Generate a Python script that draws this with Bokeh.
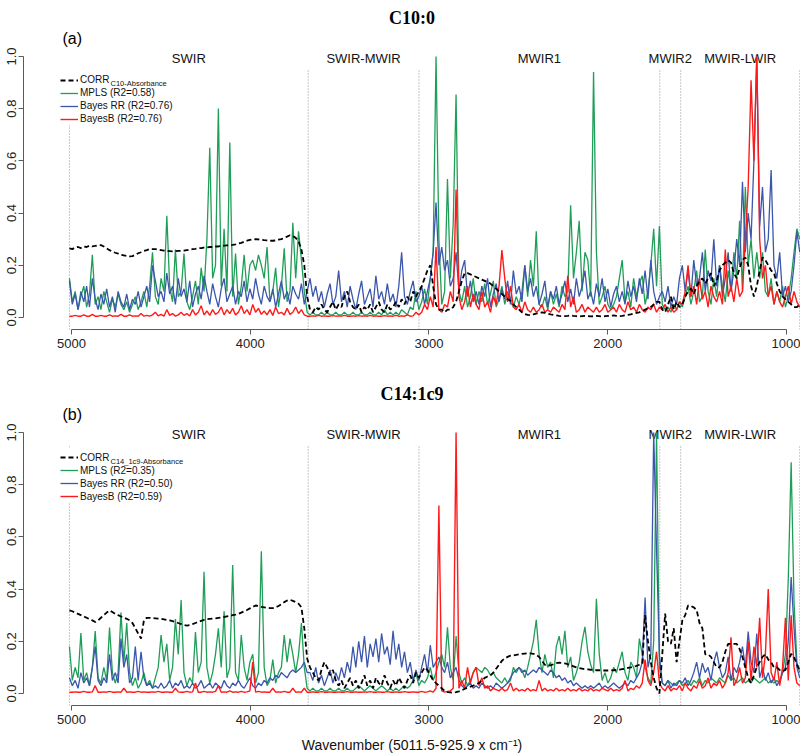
import numpy as np
from bokeh.plotting import figure
from bokeh.models import (Range1d, FixedTicker, PrintfTickFormatter, Legend,
                          LegendItem, Label, Title)
from bokeh.layouts import column
from bokeh.embed import file_html
from bokeh.resources import INLINE
from bokeh.core.properties import value

# ---------------- spectral axis (from the x-axis title: 5011.5-925.9) -------
WN_START = 5011.5
WN_END = 925.9
N_POINTS = 256
wavenumber = np.linspace(WN_START, WN_END, N_POINTS)

REGION_BOUNDS = [5011.5, 3676.0, 3056.0, 1709.0, 1592.0, 925.9]
REGION_NAMES = ["SWIR", "SWIR-MWIR", "MWIR1", "MWIR2", "MWIR-LWIR"]
X_TICKS = [5000, 4000, 3000, 2000, 1000]
Y_TICKS = [0.0, 0.2, 0.4, 0.6, 0.8, 1.0]

# ---------------- (a) C10:0 -------------------------------------------------
corr_c10 = [
    .265, .262, .268, .270, .266, .272, .270, .275, .272, .274,
    .277, .277, .272, .265, .258, .252, .248, .245, .240, .238,
    .236, .234, .235, .240, .246, .250, .255, .258, .262, .262,
    .262, .260, .258, .256, .255, .254, .253, .254, .255, .255,
    .256, .258, .260, .262, .263, .265, .266, .268, .268, .270,
    .270, .272, .272, .274, .275, .276, .277, .278, .280, .283,
    .286, .290, .294, .297, .299, .300, .299, .298, .296, .295,
    .294, .294, .295, .298, .300, .305, .310, .315, .312, .305,
    .292, .260, .200, .080, .030, .020, .040, .030, .050, .030,
    .020, .040, .060, .030, .050, .040, .080, .100, .060, .040,
    .030, .050, .020, .040, .030, .050, .020, .040, .060, .030,
    .020, .050, .030, .040, .060, .040, .070, .050, .080, .060,
    .100, .080, .100, .120, .150, .180, .200, .120, .050, .030,
    .030, .020, .030, .030, .040, .060, .100, .140, .170, .170,
    .165, .160, .155, .150, .145, .140, .135, .130, .120, .110,
    .100, .090, .080, .070, .064, .050, .040, .030, .020, .013,
    .010, .009, .012, .015, .018, .020, .018, .015, .012, .010,
    .008, .006, .005, .005, .006, .008, .006, .005, .004, .005,
    .006, .005, .004, .005, .006, .005, .004, .005, .006, .007,
    .008, .006, .005, .006, .008, .010, .012, .015, .018, .020,
    .025, .030, .035, .040, .050, .060, .060, .030, .020, .050,
    .080, .030, .060, .040, .050, .080, .100, .110, .090, .120,
    .140, .150, .130, .150, .170, .120, .140, .180, .200, .210,
    .220, .210, .170, .150, .190, .220, .230, .200, .120, .080,
    .120, .180, .230, .220, .200, .180, .170, .130, .100, .080,
    .070, .060, .050, .040, .040, .050]

mpls_c10 = [
    .15, .06, .10, .03, .08, .12, .04, .09, .24, .05,
    .08, .03, .10, .06, .02, .07, .04, .09, .05, .03,
    .06, .02, .05, .08, .03, .06, .10, .04, .12, .25,
    .08, .05, .15, .10, .39, .12, .06, .26, .08, .10,
    .245, .06, .03, .08, .14, .05, .19, .10, .30, .65,
    .15, .20, .80, .12, .34, .10, .67, .08, .245, .05,
    .12, .24, .10, .20, .22, .18, .24, .20, .15, .27,
    .06, .10, .19, .04, .12, .265, .06, .10, .363, .15,
    .33, .22, .10, .02, .01, .02, .01, .01, .02, .01,
    .02, .01, .01, .02, .01, .01, .02, .01, .01, .02,
    .01, .01, .02, .01, .01, .02, .01, .01, .02, .01,
    .03, .01, .02, .01, .02, .01, .03, .02, .01, .04,
    .03, .10, .03, .06, .11, .05, .15, .25, 1.0, .30,
    .05, .10, .53, .15, .36, .854, .10, .06, .12, .04,
    .08, .15, .05, .10, .06, .13, .05, .09, .14, .04,
    .07, .12, .05, .10, .06, .04, .08, .05, .10, .20,
    .08, .22, .12, .33, .05, .04, .08, .03, .10, .05,
    .09, .04, .12, .08, .10, .43, .15, .25, .37, .10,
    .25, .22, .08, .94, .25, .05, .08, .12, .05, .03,
    .05, .08, .15, .22, .06, .10, .04, .15, .08, .13,
    .16, .05, .10, .20, .34, .12, .35, .05, .03, .04,
    .02, .05, .03, .06, .04, .08, .12, .05, .10, .18,
    .06, .08, .26, .10, .05, .15, .08, .20, .12, .06,
    .18, .10, .25, .15, .37, .10, .50, .20, .30, .15,
    .25, .15, .25, .10, .08, .15, .05, .10, .06, .12,
    .04, .08, .15, .25, .34, .30]

bayesrr_c10 = [
    .14, .05, .09, .03, .10, .06, .12, .04, .15, .07,
    .03, .09, .05, .11, .04, .08, .02, .10, .06, .04,
    .09, .03, .07, .05, .10, .04, .08, .12, .06, .20,
    .14, .08, .10, .06, .17, .09, .12, .05, .15, .08,
    .11, .06, .14, .04, .09, .12, .07, .16, .10, .05,
    .13, .08, .04, .11, .15, .06, .09, .12, .05, .10,
    .08, .14, .06, .11, .07, .15, .09, .05, .12, .08,
    .06, .11, .04, .09, .14, .07, .10, .05, .12, .09,
    .07, .13, .05, .10, .15, .08, .12, .06, .10, .04,
    .09, .13, .05, .08, .18, .06, .10, .04, .12, .07,
    .03, .09, .14, .05, .08, .11, .04, .16, .07, .10,
    .05, .13, .06, .09, .04, .12, .25, .08, .05, .10,
    .14, .06, .08, .12, .05, .10, .15, .25, .44, .20,
    .27, .18, .22, .12, .15, .25, .10, .18, .22, .08,
    .14, .06, .10, .05, .12, .08, .15, .04, .09, .13,
    .06, .11, .07, .14, .05, .18, .09, .12, .06, .20,
    .10, .15, .08, .12, .05, .09, .14, .04, .10, .07,
    .12, .05, .09, .14, .06, .11, .05, .15, .08, .12,
    .18, .07, .10, .05, .13, .08, .15, .06, .11, .04,
    .09, .12, .06, .10, .05, .14, .08, .12, .06, .15,
    .09, .18, .07, .22, .10, .05, .08, .10, .06, .12,
    .04, .08, .05, .15, .20, .10, .18, .08, .22, .12,
    .15, .25, .10, .18, .14, .30, .12, .20, .08, .15,
    .25, .10, .18, .30, .20, .52, .25, .40, .30, .60,
    1.0, .35, .50, .25, .30, .565, .20, .15, .25, .08,
    .12, .06, .10, .20, .33, .25]

bayesb_c10 = [
    .005, .005, .008, .005, .005, .010, .005, .005, .012, .005,
    .005, .008, .005, .005, .010, .005, .006, .005, .012, .005,
    .005, .010, .005, .006, .005, .015, .005, .008, .005, .010,
    .020, .006, .012, .005, .030, .008, .015, .005, .010, .020,
    .008, .015, .006, .030, .010, .020, .045, .010, .025, .008,
    .030, .012, .020, .040, .010, .030, .015, .035, .010, .020,
    .045, .015, .030, .010, .050, .020, .035, .012, .025, .010,
    .030, .008, .040, .015, .020, .010, .035, .012, .020, .040,
    .015, .030, .010, .005, .005, .006, .005, .008, .005, .006,
    .005, .005, .007, .005, .006, .005, .008, .005, .005, .006,
    .005, .007, .005, .006, .005, .008, .005, .006, .005, .005,
    .007, .005, .006, .005, .008, .005, .006, .005, .010, .005,
    .006, .020, .010, .020, .050, .030, .080, .040, .270, .030,
    .020, .050, .040, .100, .060, .490, .080, .030, .060, .120,
    .040, .090, .050, .030, .100, .040, .060, .020, .080, .050,
    .120, .258, .150, .060, .120, .040, .030, .050, .020, .060,
    .030, .020, .040, .020, .030, .050, .020, .030, .020, .040,
    .030, .020, .050, .030, .160, .040, .080, .020, .030, .050,
    .020, .040, .030, .020, .040, .020, .030, .050, .020, .030,
    .040, .020, .050, .030, .020, .060, .030, .040, .020, .050,
    .030, .020, .040, .030, .050, .020, .040, .030, .050, .020,
    .040, .020, .030, .060, .050, .100, .200, .080, .120, .050,
    .150, .070, .100, .040, .120, .080, .060, .100, .050, .260,
    .080, .120, .060, .150, .080, .100, .300, .500, .909, .600,
    1.00, .300, .150, .200, .080, .120, .050, .100, .060, .040,
    .080, .120, .050, .100, .060, .040]

# ---------------- (b) C14:1c9 -----------------------------------------------
corr_c14 = [
    .318, .315, .310, .305, .300, .295, .290, .285, .280, .274,
    .280, .290, .300, .310, .318, .312, .305, .300, .295, .290,
    .286, .280, .270, .250, .230, .210, .280, .290, .290, .289,
    .288, .287, .286, .284, .282, .280, .277, .274, .270, .266,
    .262, .260, .262, .266, .270, .274, .278, .282, .285, .286,
    .287, .288, .290, .291, .293, .295, .297, .300, .302, .305,
    .310, .315, .320, .326, .332, .337, .335, .332, .330, .328,
    .327, .327, .330, .335, .342, .350, .356, .359, .355, .350,
    .344, .330, .250, .134, .100, .080, .060, .050, .090, .120,
    .100, .070, .090, .050, .030, .050, .020, .040, .060, .030,
    .050, .020, .040, .070, .030, .050, .020, .060, .040, .030,
    .070, .040, .020, .050, .030, .060, .040, .020, .050, .070,
    .040, .080, .060, .080, .100, .090, .070, .050, .040, .030,
    .020, .010, .005, .004, .003, .005, .008, .012, .018, .022,
    .026, .030, .035, .040, .050, .060, .065, .069, .080, .095,
    .110, .125, .135, .140, .145, .146, .148, .150, .152, .153,
    .154, .154, .152, .148, .140, .125, .110, .107, .108, .112,
    .116, .118, .117, .115, .112, .108, .104, .100, .097, .095,
    .093, .092, .091, .090, .089, .089, .088, .088, .088, .088,
    .089, .090, .091, .093, .095, .098, .100, .103, .106, .110,
    .114, .300, .200, .120, .060, .020, .000, .150, .306, .200,
    .190, .250, .120, .200, .280, .300, .337, .335, .330, .320,
    .270, .250, .150, .150, .140, .120, .100, .100, .120, .160,
    .190, .190, .190, .190, .170, .140, .100, .060, .040, .070,
    .100, .120, .140, .150, .130, .120, .100, .100, .090, .085,
    .090, .120, .152, .140, .110, .090]

mpls_c14 = [
    .18, .05, .10, .06, .232, .05, .08, .03, .10, .239,
    .06, .04, .10, .05, .253, .08, .04, .08, .31, .12,
    .27, .08, .03, .06, .02, .04, .08, .03, .05, .02,
    .06, .10, .224, .12, .19, .05, .10, .285, .15, .358,
    .08, .03, .06, .04, .235, .08, .12, .466, .10, .04,
    .08, .15, .25, .10, .315, .06, .10, .492, .08, .05,
    .224, .10, .05, .12, .15, .04, .08, .545, .10, .03,
    .05, .13, .04, .08, .10, .224, .12, .21, .15, .08,
    .15, .27, .10, .02, .01, .02, .01, .01, .02, .01,
    .01, .02, .01, .01, .02, .01, .01, .02, .01, .01,
    .02, .03, .02, .01, .02, .03, .02, .01, .02, .03,
    .02, .01, .02, .01, .02, .01, .02, .03, .02, .03,
    .05, .08, .03, .05, .04, .06, .10, .05, .08, .12,
    .15, .10, .254, .10, .05, .22, .08, .04, .06, .03,
    .05, .08, .10, .09, .08, .10, .09, .07, .08, .06,
    .05, .04, .06, .04, .05, .10, .08, .10, .09, .06,
    .10, .15, .20, .282, .15, .08, .15, .10, .12, .06,
    .18, .22, .15, .24, .10, .14, .05, .08, .12, .20,
    .255, .16, .11, .08, .363, .15, .05, .08, .04, .06,
    .10, .08, .12, .16, .08, .05, .12, .10, .06, .21,
    .15, .10, .06, .04, .20, 1.0, .10, .04, .03, .05,
    .04, .03, .04, .05, .03, .04, .05, .03, .05, .04,
    .06, .03, .05, .04, .06, .05, .04, .06, .05, .04,
    .07, .05, .06, .04, .05, .06, .04, .05, .04, .06,
    .05, .04, .05, .06, .04, .05, .04, .05, .04, .08,
    .15, .44, .886, .35, .12, .08]

bayesrr_c14 = [
    .06, .03, .05, .02, .08, .04, .06, .03, .10, .18,
    .05, .03, .06, .04, .15, .05, .08, .04, .21, .10,
    .15, .04, .06, .18, .05, .16, .06, .03, .04, .02,
    .03, .02, .04, .02, .03, .05, .02, .04, .03, .05,
    .02, .03, .02, .04, .02, .03, .05, .02, .03, .04,
    .02, .04, .03, .02, .05, .03, .02, .04, .03, .05,
    .03, .02, .04, .06, .03, .02, .04, .03, .05, .04,
    .06, .05, .07, .06, .08, .07, .06, .08, .09, .08,
    .09, .10, .12, .08, .08, .05, .10, .04, .07, .03,
    .06, .09, .04, .08, .05, .10, .06, .12, .08, .18,
    .10, .20, .12, .22, .10, .19, .14, .21, .12, .23,
    .15, .18, .11, .24, .13, .19, .10, .16, .08, .12,
    .05, .09, .05, .10, .15, .08, .185, .10, .12, .14,
    .10, .08, .12, .06, .08, .10, .05, .03, .02, .03,
    .04, .02, .03, .02, .04, .03, .02, .03, .02, .04,
    .03, .02, .03, .04, .06, .08, .09, .10, .08, .09,
    .07, .08, .09, .08, .10, .09, .08, .07, .09, .08,
    .06, .07, .05, .06, .04, .05, .03, .04, .03, .02,
    .03, .02, .03, .02, .03, .04, .02, .03, .02, .03,
    .04, .03, .02, .03, .04, .03, .05, .04, .06, .08,
    .12, .368, .10, .15, 1.0, .55, .15, .04, .03, .05,
    .02, .04, .03, .05, .04, .06, .03, .05, .08, .12,
    .06, .116, .08, .10, .05, .12, .16, .10, .06, .08,
    .14, .05, .10, .08, .12, .18, .10, .237, .12, .08,
    .23, .06, .10, .05, .08, .04, .06, .03, .05, .08,
    .10, .20, .446, .25, .10, .06]

bayesb_c14 = [
    .005, .005, .006, .005, .005, .008, .005, .005, .006, .030,
    .005, .005, .006, .005, .008, .005, .005, .006, .005, .020,
    .005, .006, .005, .005, .008, .005, .006, .005, .005, .006,
    .005, .008, .005, .005, .006, .005, .005, .020, .006, .005,
    .005, .008, .005, .006, .040, .005, .005, .008, .005, .006,
    .005, .008, .030, .005, .006, .005, .010, .005, .006, .005,
    .008, .005, .006, .010, .120, .005, .008, .005, .006, .005,
    .005, .020, .005, .006, .005, .008, .005, .005, .020, .005,
    .006, .005, .020, .005, .005, .006, .005, .005, .007, .005,
    .005, .006, .005, .005, .006, .005, .005, .007, .005, .005,
    .006, .005, .005, .006, .005, .007, .005, .005, .006, .005,
    .005, .007, .005, .005, .006, .005, .005, .007, .005, .005,
    .006, .005, .005, .008, .005, .006, .010, .005, .020, .720,
    .010, .005, .008, .010, .020, 1.00, .020, .050, .020, .100,
    .040, .080, .100, .030, .060, .020, .030, .010, .020, .015,
    .010, .020, .010, .015, .040, .010, .020, .010, .015, .010,
    .020, .010, .015, .010, .050, .010, .020, .010, .015, .010,
    .020, .010, .015, .010, .020, .010, .015, .010, .020, .010,
    .015, .010, .020, .010, .015, .010, .020, .015, .010, .020,
    .010, .015, .010, .020, .050, .010, .020, .015, .030, .020,
    .040, .130, .050, .030, .080, .160, .040, .020, .010, .030,
    .010, .020, .015, .030, .010, .040, .020, .010, .030, .020,
    .050, .020, .030, .060, .020, .040, .030, .050, .020, .040,
    .080, .215, .030, .050, .100, .040, .060, .200, .050, .180,
    .100, .290, .060, .150, .400, .080, .050, .120, .030, .100,
    .290, .050, .300, .100, .040, .030]

for _name, _arr in [("corr_c10", corr_c10), ("mpls_c10", mpls_c10),
                    ("bayesrr_c10", bayesrr_c10), ("bayesb_c10", bayesb_c10),
                    ("corr_c14", corr_c14), ("mpls_c14", mpls_c14),
                    ("bayesrr_c14", bayesrr_c14), ("bayesb_c14", bayesb_c14)]:
    assert len(_arr) == N_POINTS, (_name, len(_arr))

# ---------------- styling -----------------------------------------------------
SANS = "Liberation Sans"
SERIF = "Liberation Serif"
C_MPLS = "#1f9e58"
C_BRR = "#3b56ab"
C_BB = "#ff1a1a"
C_AXIS = "#5a5a5a"
FRAME_H = 283
FRAME_W = 777
Y_LO, Y_HI = -0.046, 1.038
X_LO, X_HI = 5268.5, 921.7
LEG_X = 37          # legend left, px from frame left
LEG_W = 113         # legend box width, px
LEG_H = 55          # legend box height, px
PX_X = FRAME_W / (X_LO - X_HI)
PX_Y = FRAME_H / (Y_HI - Y_LO)


def make_panel(letter, trait, corr, mpls, brr, bb, r2, corr_sub, top, xlabel,
               legend_top):
    p = figure(width=800, frame_height=FRAME_H,
               x_range=Range1d(X_LO, X_HI), y_range=Range1d(Y_LO, Y_HI),
               output_backend="svg", toolbar_location=None,
               min_border_top=top, min_border_left=23, min_border_right=0,
               min_border_bottom=0, outline_line_color=None,
               background_fill_color="white", border_fill_color="white")
    p.grid.visible = False

    # trait name (outer) and panel letter (next to the frame)
    p.title.text = trait
    p.title.align = "center"
    p.title.offset = 6
    p.title.text_font = SERIF
    p.title.text_font_style = "bold"
    p.title.text_font_size = "18px"
    p.title.text_color = "black"
    p.title.standoff = 0
    p.add_layout(Title(text=letter, align="left", offset=39,
                       text_font=SANS, text_font_style="normal",
                       text_font_size="16px", text_color="black",
                       standoff=0), "above")

    nb = len(REGION_BOUNDS)
    p.segment(x0=REGION_BOUNDS, x1=REGION_BOUNDS, y0=[Y_LO] * nb,
              y1=[0.948] * nb, line_color="#8f8f8f", line_dash="1 2",
              line_width=1)
    # white backing of the legend (hides the region line behind it)
    p.quad(left=[X_LO - LEG_X / PX_X], right=[X_LO - (LEG_X + LEG_W) / PX_X],
           top=[Y_HI - legend_top / PX_Y],
           bottom=[Y_HI - (legend_top + LEG_H) / PX_Y],
           fill_color="white", line_color=None)
    mids = [(a + b) / 2 for a, b in zip(REGION_BOUNDS[:-1], REGION_BOUNDS[1:])]
    p.text(x=mids, y=[0.992] * len(mids), text=REGION_NAMES,
           text_align="center", text_baseline="middle",
           text_font=value(SANS), text_font_size="13px", text_color="#111111")

    r_g = p.line(wavenumber, mpls, line_color=C_MPLS, line_width=1.3)
    r_b = p.line(wavenumber, brr, line_color=C_BRR, line_width=1.3)
    r_r = p.line(wavenumber, bb, line_color=C_BB, line_width=1.4)
    r_c = p.line(wavenumber, corr, line_color="black", line_dash="5 3",
                 line_width=1.8)

    legend = Legend(items=[
        LegendItem(label="CORR", renderers=[r_c]),
        LegendItem(label=f"MPLS (R2={r2[0]})", renderers=[r_g]),
        LegendItem(label=f"Bayes RR (R2={r2[1]})", renderers=[r_b]),
        LegendItem(label=f"BayesB (R2={r2[2]})", renderers=[r_r]),
    ], location=(LEG_X, FRAME_H - legend_top - LEG_H))
    legend.label_text_font = SANS
    legend.label_text_font_size = "10px"
    legend.label_text_color = "#111111"
    legend.glyph_width = 18
    legend.glyph_height = 12
    legend.label_height = 12
    legend.label_standoff = 2
    legend.spacing = 1
    legend.padding = 2
    legend.margin = 0
    legend.border_line_color = None
    legend.background_fill_alpha = 0.0
    p.add_layout(legend)

    # subscript of the CORR legend entry
    p.add_layout(Label(x=LEG_X + 50, y=FRAME_H - legend_top - 13.5,
                       x_units="screen", y_units="screen", text=corr_sub,
                       text_font=SANS, text_font_size="7.5px",
                       text_color="#111111", text_baseline="alphabetic"))

    p.xaxis.ticker = FixedTicker(ticks=X_TICKS)
    p.xaxis.bounds = (min(X_TICKS), max(X_TICKS))
    p.yaxis.ticker = FixedTicker(ticks=Y_TICKS)
    p.yaxis.bounds = (min(Y_TICKS), max(Y_TICKS))
    p.yaxis.formatter = PrintfTickFormatter(format="%.1f")
    p.yaxis.major_label_orientation = "vertical"
    for ax in p.axis:
        ax.axis_line_color = C_AXIS
        ax.major_tick_line_color = C_AXIS
        ax.minor_tick_line_color = None
        ax.major_tick_out = 5
        ax.major_tick_in = 0
        ax.major_label_standoff = 2
        ax.major_label_text_font = SANS
        ax.major_label_text_font_size = "13px"
        ax.major_label_text_color = "#222222"
    p.xaxis.major_label_standoff = 4
    if xlabel:
        p.xaxis.axis_label = xlabel
        p.xaxis.axis_label_text_font = SANS
        p.xaxis.axis_label_text_font_style = "normal"
        p.xaxis.axis_label_text_font_size = "14px"
        p.xaxis.axis_label_text_color = "#111111"
        p.xaxis.axis_label_standoff = 10
    return p


pa = make_panel("(a)", "C10:0", corr_c10, mpls_c10, bayesrr_c10, bayesb_c10,
                ["0.58", "0.76", "0.76"], "C10-Absorbance", 46, None, 23.5)
pb = make_panel("(b)", "C14:1c9", corr_c14, mpls_c14, bayesrr_c14, bayesb_c14,
                ["0.35", "0.50", "0.59"], "C14_1c9-Absorbance", 72,
                "Wavenumber (5011.5-925.9 x cm\u207b\u00b9)", 25)

layout = column(pa, pb, spacing=0)
open("out.html", "w").write(file_html(layout, INLINE))
